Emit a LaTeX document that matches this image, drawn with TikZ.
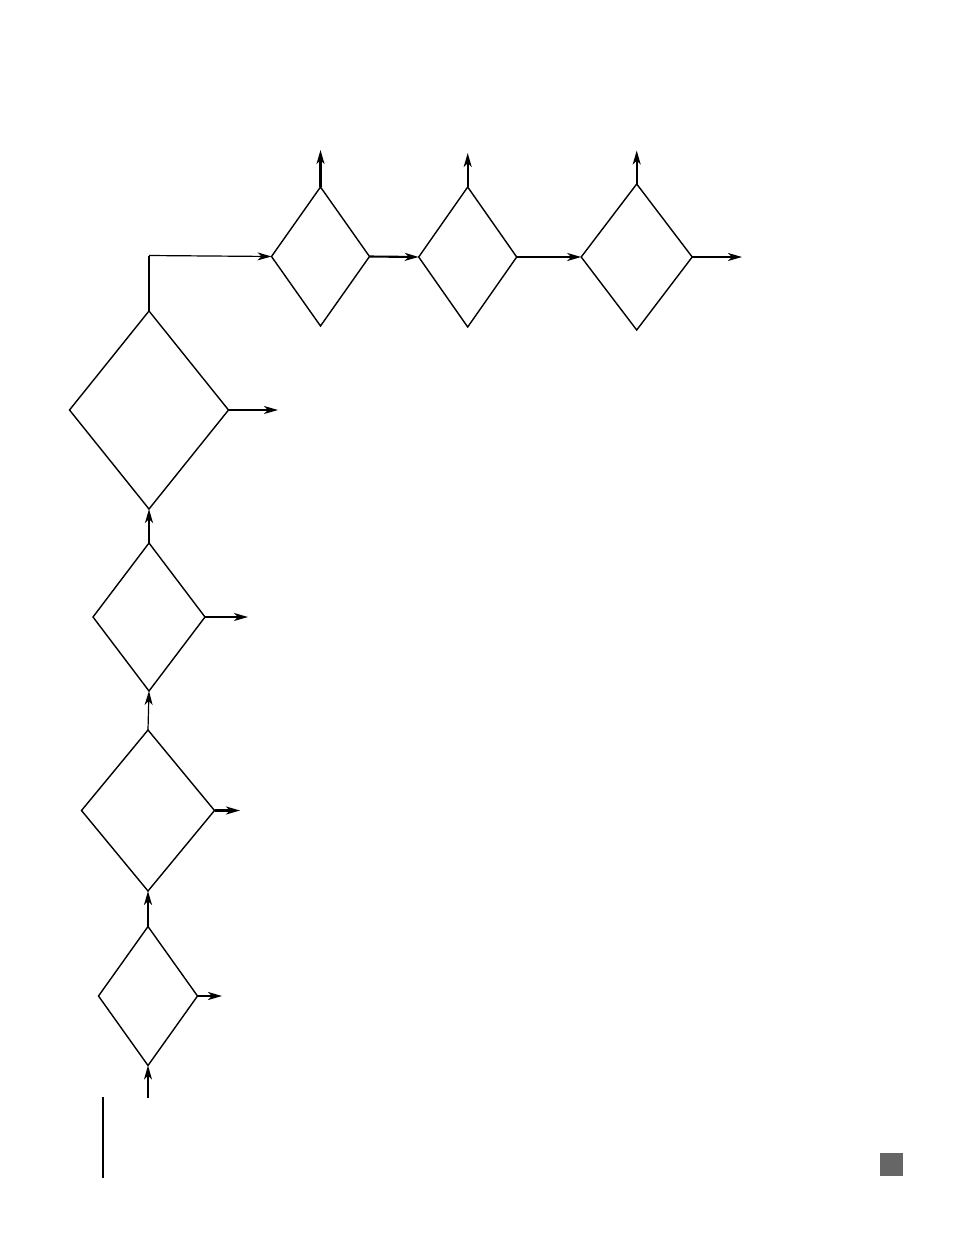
\documentclass[tikz,border=0pt]{standalone}
\usetikzlibrary{shapes.geometric,arrows.meta}
\definecolor{markgray}{RGB}{102,102,102}

\begin{document}
\begin{tikzpicture}[x=1pt,y=-1pt,
        dec/.style={draw,diamond,inner sep=0pt,outer sep=0pt,line width=1.4pt},
        flow/.style={-{Stealth[length=14pt,width=8pt,inset=4pt]},line width=1.2pt},
        bold/.style={flow,line width=2.1pt}]
        \useasboundingbox (0,0) rectangle (954,1235);
        % column of tests
        \node[dec,minimum width=99pt,minimum height=139pt] (d1) at (148,996) {};
        \node[dec,minimum width=133pt,minimum height=161pt] (d2) at (148,810.5) {};
        \node[dec,minimum width=112pt,minimum height=148pt] (d3) at (149,617) {};
        \node[dec,minimum width=159pt,minimum height=198pt] (d4) at (149,410) {};
        % row of tests
        \node[dec,minimum width=98pt,minimum height=139pt] (d5) at (320.5,256.5) {};
        \node[dec,minimum width=98pt,minimum height=140pt] (d6) at (467.7,257) {};
        \node[dec,minimum width=111pt,minimum height=146pt] (d7) at (636.7,257) {};
        % free ends
        \coordinate (in) at (148,1098);
        \coordinate (o1) at (222,996);
        \coordinate (o2) at (240,810.5);
        \coordinate (o3) at (248,617);
        \coordinate (o4) at (278,410);
        \coordinate (k) at (149,255.5);
        \coordinate (u5) at (320.5,150);
        \coordinate (u6) at (467.7,153);
        \coordinate (u7) at (636.7,150.5);
        \coordinate (o7) at (742,257);
        \draw[flow] (in) -- (d1.south);
        \draw[bold] (d1.north) -- (d2.south);
        \draw[flow] (d2.north) -- (d3.south);
        \draw[bold] (d3.north) -- (d4.south);
        \draw[bold] (d1.east) -- (o1);
        \draw[bold] (d2.east) -- (o2);
        \draw[flow] (d3.east) -- (o3);
        \draw[flow] (d4.east) -- (o4);
        \draw[line width=2.1pt] (d4.north) -- (k);
        \draw[flow] (k) -- (d5.west);
        \draw[bold] (d5.east) -- (d6.west);
        \draw[bold] (d6.east) -- (d7.west);
        \draw[flow] (d7.east) -- (o7);
        \draw[bold] (d5.north) -- (u5);
        \draw[bold] (d6.north) -- (u6);
        \draw[bold] (d7.north) -- (u7);
        % rule and page mark
        \coordinate (ra) at (103,1097);
        \coordinate (rb) at (103,1178);
        \draw[line width=1.3pt] (ra) -- (rb);
        \node[fill=markgray,inner sep=0pt,minimum size=23pt] (mark) at (891.5,1164.5) {};
\end{tikzpicture}
\end{document}
